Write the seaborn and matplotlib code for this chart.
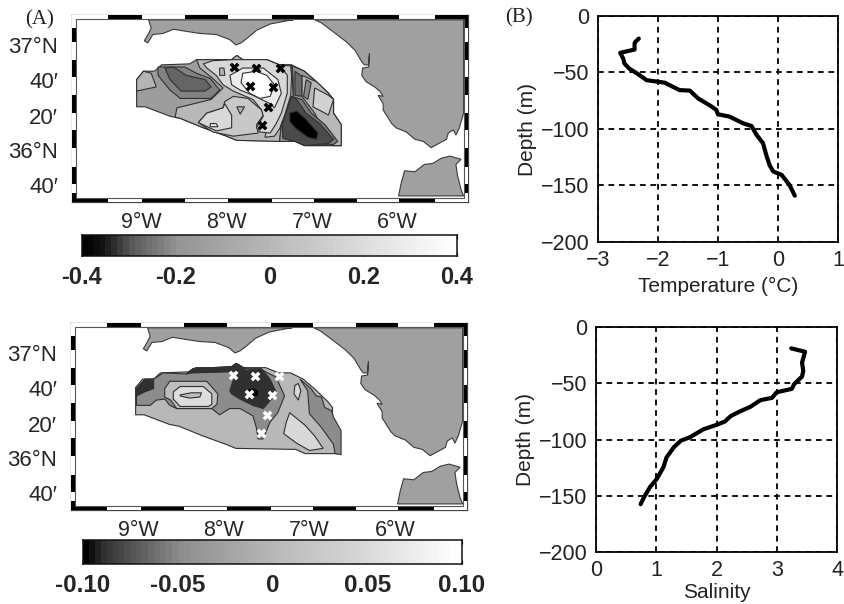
import numpy as np
import pandas as pd
import seaborn as sns
import matplotlib.pyplot as plt
from matplotlib.colors import LinearSegmentedColormap, Normalize
from matplotlib.patches import Rectangle

# coast
north_lon = [-8.91, -8.88, -8.91, -8.96, -8.92, -8.86, -8.74, -8.62, -8.47, -8.31, -8.12, -7.96, -7.89, -7.83, -7.75, -7.65, -7.49, -7.30, -7.22]
north_lat = [37.24, 37.16, 37.11, 37.04, 37.02, 37.10, 37.11, 37.15, 37.13, 37.11, 37.10, 37.05, 37.00, 37.02, 37.07, 37.14, 37.20, 37.23, 37.24]
spain_lon = [-6.97, -6.89, -6.76, -6.60, -6.50, -6.42, -6.39, -6.34, -6.33, -6.34, -6.41, -6.42, -6.37, -6.27, -6.21, -6.17, -6.23, -6.17, -6.17, -6.07, -6.02, -5.90, -5.80, -5.70, -5.61, -5.43, -5.41, -5.35, -5.32, -5.28, -5.23, -5.23]
spain_lat = [37.24, 37.21, 37.13, 37.03, 36.95, 36.84, 36.81, 36.81, 36.92, 36.79, 36.78, 36.71, 36.65, 36.60, 36.56, 36.51, 36.52, 36.44, 36.38, 36.25, 36.21, 36.17, 36.10, 36.08, 36.02, 36.10, 36.16, 36.19, 36.14, 36.21, 36.35, 37.24]
africa_lon = [-5.99, -5.96, -5.92, -5.80, -5.69, -5.59, -5.49, -5.39, -5.26, -5.32, -5.30, -5.26, -5.23]
africa_lat = [35.56, 35.68, 35.80, 35.79, 35.86, 35.87, 35.92, 35.94, 35.91, 35.86, 35.75, 35.62, 35.56]

# survey area outline
area_lon = [-9.05, -8.97, -8.84, -8.76, -8.43, -8.35, -7.94, -7.88, -7.81, -7.53, -7.38, -7.24, -7.09, -6.95, -6.81, -6.75, -6.75, -6.66, -6.66, -7.07, -7.18, -7.88, -8.00, -8.27, -8.54, -8.66, -8.95, -9.05]
area_lat = [36.67, 36.75, 36.75, 36.81, 36.82, 36.86, 36.86, 36.90, 36.86, 36.86, 36.81, 36.81, 36.75, 36.65, 36.54, 36.48, 36.35, 36.24, 36.04, 36.04, 36.08, 36.09, 36.13, 36.21, 36.30, 36.32, 36.41, 36.41]

# stations
station_lon = [-7.91, -7.65, -7.37, -7.72, -7.46, -7.52, -7.59]
station_lat = [36.79, 36.78, 36.78, 36.61, 36.60, 36.41, 36.24]

# upper map contours
a1_lon = [-9.05, -8.97, -8.88, -8.82, -9.05]
a1_lat = [36.67, 36.75, 36.73, 36.60, 36.56]
a2_lon = [-8.80, -8.49, -8.35, -8.19, -8.08, -8.18, -8.54, -8.66, -8.80]
a2_lat = [36.79, 36.79, 36.73, 36.68, 36.57, 36.49, 36.49, 36.57, 36.71]
a3_lon = [-8.72, -8.62, -8.47, -8.25, -8.18, -8.25, -8.53, -8.66]
a3_lat = [36.78, 36.79, 36.71, 36.67, 36.60, 36.56, 36.56, 36.67]
a4_lon = [-8.60, -8.58, -8.18, -8.04, -8.16, -8.31, -8.35, -7.94, -7.88, -7.81, -7.53, -7.38, -7.24, -7.22, -7.36, -7.38, -7.88, -8.00, -8.27, -8.54]
a4_lat = [36.31, 36.40, 36.48, 36.59, 36.68, 36.78, 36.86, 36.86, 36.90, 36.86, 36.86, 36.81, 36.81, 36.52, 36.24, 36.08, 36.09, 36.13, 36.21, 36.30]
a5_lon = [-7.38, -7.25, -7.24, -7.25, -7.32, -7.38, -7.44, -7.55]
a5_lat = [36.81, 36.80, 36.70, 36.52, 36.33, 36.20, 36.13, 36.12]
a6_lon = [-8.33, -8.23, -8.04, -8.02, -7.92, -7.75, -7.59, -7.57, -7.65, -7.63, -7.92, -8.16]
a6_lat = [36.26, 36.35, 36.40, 36.46, 36.51, 36.49, 36.38, 36.33, 36.24, 36.16, 36.13, 36.17]
a7_lon = [-8.33, -8.23, -8.04, -8.02, -7.94, -7.94, -8.12]
a7_lat = [36.26, 36.35, 36.40, 36.44, 36.33, 36.21, 36.18]
a8_lon = [-7.88, -7.79, -7.84]
a8_lat = [36.41, 36.41, 36.34]
a9_lon = [-8.19, -8.12, -8.10, -8.19]
a9_lat = [36.25, 36.25, 36.22, 36.22]
a10_lon = [-8.23, -8.27, -8.16, -7.92, -7.53, -7.38, -7.29, -7.29, -7.36, -7.42, -7.49, -7.61, -7.65, -7.57, -7.59, -7.69, -7.92, -8.04, -8.12]
a10_lat = [36.78, 36.82, 36.85, 36.86, 36.86, 36.81, 36.71, 36.54, 36.35, 36.25, 36.16, 36.17, 36.21, 36.32, 36.38, 36.48, 36.56, 36.62, 36.71]
a11_lon = [-7.94, -7.96, -7.81, -7.57, -7.40, -7.36, -7.44, -7.49, -7.69, -7.84]
a11_lat = [36.62, 36.71, 36.78, 36.78, 36.67, 36.54, 36.40, 36.44, 36.52, 36.57]
a12_lon = [-7.83, -7.81, -7.65, -7.53, -7.44, -7.49, -7.61, -7.73]
a12_lat = [36.64, 36.73, 36.75, 36.71, 36.62, 36.51, 36.49, 36.54]
a13_lon = [-8.08, -8.03, -8.02, -8.08]
a13_lat = [36.78, 36.78, 36.71, 36.71]
a14_lon = [-7.23, -7.22, -7.22, -7.36, -7.38, -7.18, -7.07, -6.66, -6.66, -6.75, -6.75, -6.81, -6.95, -7.09]
a14_lat = [36.80, 36.63, 36.52, 36.24, 36.08, 36.08, 36.04, 36.04, 36.24, 36.35, 36.48, 36.54, 36.65, 36.75]
a15_lon = [-7.12, -6.95, -6.81, -6.75, -6.75, -6.66, -6.66, -6.75, -6.85, -6.97, -7.12]
a15_lat = [36.71, 36.65, 36.54, 36.48, 36.35, 36.24, 36.04, 36.04, 36.16, 36.35, 36.51]
a16_lon = [-6.97, -6.81, -6.75, -6.81, -6.85, -6.99]
a16_lat = [36.59, 36.52, 36.48, 36.33, 36.35, 36.41]
a17_lon = [-7.20, -7.12, -7.12, -7.20]
a17_lat = [36.75, 36.70, 36.51, 36.52]
a18_lon = [-7.07, -7.01, -7.05, -7.10]
a18_lat = [36.67, 36.64, 36.48, 36.51]
a19_lon = [-7.24, -7.12, -7.01, -6.85, -6.70, -6.75, -7.09, -7.20, -7.34, -7.35]
a19_lat = [36.51, 36.48, 36.35, 36.24, 36.08, 36.05, 36.04, 36.08, 36.11, 36.24]
a20_lon = [-7.24, -7.18, -7.07, -6.91, -6.75, -6.81, -7.09, -7.20, -7.34, -7.35]
a20_lat = [36.51, 36.48, 36.35, 36.25, 36.10, 36.06, 36.04, 36.08, 36.11, 36.24]
a21_lon = [-7.26, -7.18, -7.07, -6.93, -6.95, -7.05, -7.20, -7.26]
a21_lat = [36.35, 36.37, 36.29, 36.16, 36.10, 36.12, 36.21, 36.27]

# lower map contours
b1_lon = [-9.04, -8.88, -8.81, -8.71, -8.65, -8.57, -8.16, -8.07, -7.95, -7.83, -7.68, -7.64, -7.62, -7.56, -7.48, -7.39, -7.31, -7.41, -7.60, -7.77, -7.87, -7.93, -8.38, -8.46, -8.73, -8.84, -8.94, -9.04]
b1_lat = [36.50, 36.50, 36.55, 36.56, 36.50, 36.47, 36.47, 36.41, 36.47, 36.47, 36.40, 36.29, 36.18, 36.18, 36.34, 36.43, 36.59, 36.77, 36.85, 36.85, 36.90, 36.87, 36.85, 36.80, 36.81, 36.75, 36.75, 36.66]
b2_lon = [-9.05, -9.04, -8.94, -8.84, -8.84, -8.94, -9.04]
b2_lat = [36.58, 36.66, 36.75, 36.75, 36.66, 36.63, 36.59]
b3_lon = [-8.46, -8.38, -7.93, -7.87, -7.77, -7.79, -7.95, -8.38]
b3_lat = [36.80, 36.85, 36.87, 36.90, 36.85, 36.83, 36.82, 36.81]
b4_lon = [-7.95, -7.91, -7.83, -7.58, -7.48, -7.41, -7.44, -7.56, -7.68, -7.83, -7.93]
b4_lat = [36.64, 36.74, 36.83, 36.85, 36.75, 36.63, 36.58, 36.47, 36.50, 36.56, 36.61]
b5_lon = [-7.74, -7.67, -7.61, -7.62, -7.70, -7.74]
b5_lat = [36.66, 36.67, 36.64, 36.58, 36.59, 36.62]
b6_lon = [-8.71, -8.65, -8.22, -8.09, -8.10, -8.16, -8.57, -8.64, -8.71]
b6_lat = [36.66, 36.73, 36.73, 36.61, 36.51, 36.47, 36.47, 36.55, 36.58]
b7_lon = [-8.61, -8.53, -8.26, -8.16, -8.16, -8.20, -8.53, -8.61]
b7_lat = [36.63, 36.68, 36.68, 36.61, 36.51, 36.49, 36.49, 36.56]
b8_lon = [-8.53, -8.40, -8.28, -8.30, -8.42, -8.53]
b8_lat = [36.60, 36.62, 36.62, 36.58, 36.57, 36.59]
b9_lon = [-7.13, -7.00, -6.94, -6.88, -6.84, -6.76, -6.74, -6.65, -6.65, -6.72, -6.74, -6.88, -7.02, -7.04]
b9_lat = [36.75, 36.66, 36.59, 36.58, 36.48, 36.45, 36.39, 36.26, 36.03, 36.04, 36.13, 36.29, 36.42, 36.64]
b10_lon = [-7.25, -7.07, -6.96, -6.86, -7.02, -7.17, -7.32, -7.29]
b10_lat = [36.43, 36.31, 36.21, 36.09, 36.07, 36.14, 36.23, 36.34]
b11_lon = [-7.15, -7.12, -7.15, -7.20, -7.19]
b11_lat = [36.71, 36.64, 36.55, 36.61, 36.69]

top_layers = [(area_lon, area_lat, -0.15), (a1_lon, a1_lat, -0.02), (a2_lon, a2_lat, -0.23), (a3_lon, a3_lat, -0.28),
              (a4_lon, a4_lat, 0.0), (a5_lon, a5_lat, 0.09), (a6_lon, a6_lat, 0.09), (a7_lon, a7_lat, 0.18),
              (a8_lon, a8_lat, -0.03), (a9_lon, a9_lat, 0.32), (a10_lon, a10_lat, 0.18), (a11_lon, a11_lat, 0.3),
              (a12_lon, a12_lat, 0.4), (a13_lon, a13_lat, 0.0), (a14_lon, a14_lat, -0.18), (a15_lon, a15_lat, 0.0),
              (a16_lon, a16_lat, 0.14), (a17_lon, a17_lat, -0.27), (a18_lon, a18_lat, -0.22), (a19_lon, a19_lat, -0.24),
              (a20_lon, a20_lat, -0.31), (a21_lon, a21_lat, -0.4)]
low_layers = [(area_lon, area_lat, 0.0), (b1_lon, b1_lat, -0.05), (b2_lon, b2_lat, -0.09), (b3_lon, b3_lat, -0.09),
              (b4_lon, b4_lat, -0.09), (b5_lon, b5_lat, -0.1), (b6_lon, b6_lat, 0.01), (b7_lon, b7_lat, 0.055),
              (b8_lon, b8_lat, 0.01), (b9_lon, b9_lat, -0.05), (b10_lon, b10_lat, 0.05), (b11_lon, b11_lat, 0.05)]

# frame stripes
zebra_lon = [-9.39, -8.99, -8.48, -7.98, -7.47, -6.98, -6.47, -5.98, -5.57]
zebra_lat = [37.16, 37.03, 36.86, 36.69, 36.52, 36.35, 36.19, 36.02, 35.84, 35.67, 35.59]

# profiles
temp = [-2.32, -2.38, -2.39, -2.39, -2.50, -2.63, -2.58, -2.56, -2.48, -2.33, -2.19, -1.89, -1.64, -1.47, -1.33, -1.14, -1.03, -1.00, -0.81, -0.58, -0.44, -0.36, -0.25, -0.19, -0.14, -0.08, 0.06, 0.19, 0.28]
temp_depth = [-20, -23, -24.4, -29.7, -31, -32.6, -37.6, -42, -46.5, -51.5, -56.8, -59, -65.6, -66, -73, -79, -83, -87, -89, -95, -97.4, -105, -112.6, -124, -132, -137.6, -140.6, -149.4, -159]
sal = [3.24, 3.47, 3.42, 3.44, 3.42, 3.29, 3.25, 3.00, 2.92, 2.73, 2.56, 2.39, 2.24, 2.14, 2.00, 1.78, 1.56, 1.41, 1.29, 1.17, 1.12, 1.01, 0.90, 0.80, 0.74]
sal_depth = [-19, -22, -31.6, -39, -44, -50.7, -55, -58, -63, -65, -71, -75, -79, -84, -87, -91, -98, -101, -107, -116, -124.5, -135, -142, -151, -157.5]

map_lon_ticks = [-9, -8, -7, -6]
map_lon_labels = ['9°W', '8°W', '7°W', '6°W']
map_lat_ticks = [37, 36.667, 36.32, 36, 35.667]
map_lat_labels = ['37°N', '40′', '20′', '36°N', '40′']

top_cbar_ticks = [-0.4, -0.2, 0, 0.2, 0.4]
top_cbar_labels = ['-0.4', '-0.2', '0', '0.2', '0.4']
low_cbar_ticks = [-0.10, -0.05, 0, 0.05, 0.10]
low_cbar_labels = ['-0.10', '-0.05', '0', '0.05', '0.10']

sns.set_theme(style='white')
plt.rcParams['font.family'] = ['Liberation Sans', 'DejaVu Sans']
plt.rcParams['text.color'] = '#222222'

W, H = 844, 604
fig = plt.figure(figsize=(W / 100, H / 100), dpi=100)


def px_axes(x0, y0, x1, y1):
    return fig.add_axes([x0 / W, 1 - y1 / H, (x1 - x0) / W, (y1 - y0) / H])


def make_cmap(vmin, vmax, stops):
    pts = [((v - vmin) / (vmax - vmin), (g, g, g)) for v, g in stops]
    return LinearSegmentedColormap.from_list('grays', pts)


top_cmap = make_cmap(-0.4, 0.4, [(-0.4, 0), (-0.36, 0.08), (-0.3, 0.35), (-0.2, 0.58), (0, 0.72), (0.2, 0.86), (0.4, 1)])
low_cmap = make_cmap(-0.1, 0.1, [(-0.1, 0), (-0.095, 0.1), (-0.09, 0.2), (-0.05, 0.55), (0, 0.72), (0.05, 0.85), (0.1, 1)])


def draw_map(box, layers, cmap, vmin, vmax, marker_color, tick_shift):
    ax = px_axes(*box)
    ax.set_xlim(-9.805, -5.179)
    ax.set_ylim(35.502, 37.286)
    norm = Normalize(vmin, vmax)
    for lon, lat in [(north_lon, north_lat), (spain_lon, spain_lat), (africa_lon, africa_lat)]:
        ax.fill(lon, lat, facecolor='#a0a0a0', edgecolor='#3a3a3a', lw=0.8)
    for lon, lat, level in layers:
        ax.fill(lon, lat, facecolor=cmap(norm(level)), edgecolor='#303030', lw=0.8)
    sns.scatterplot(x=station_lon, y=station_lat, ax=ax, marker='X', s=50, color=marker_color, linewidth=0, zorder=5)

    # zebra frame
    xb = 0.05
    yb = 0.041
    x0, x1 = ax.get_xlim()
    y0, y1 = ax.get_ylim()
    ax.add_patch(Rectangle((x0, y0), x1 - x0, yb, fc='white', ec='none', zorder=6))
    ax.add_patch(Rectangle((x0, y1 - yb), x1 - x0, yb, fc='white', ec='none', zorder=6))
    ax.add_patch(Rectangle((x0, y0), xb, y1 - y0, fc='white', ec='none', zorder=6))
    ax.add_patch(Rectangle((x1 - xb, y0), xb, y1 - y0, fc='white', ec='none', zorder=6))
    lon_edges = [x0] + zebra_lon + [x1]
    for i in range(len(lon_edges) - 1):
        yy = y0 if i % 2 == 0 else y1 - yb
        ax.add_patch(Rectangle((lon_edges[i], yy), lon_edges[i + 1] - lon_edges[i], yb, fc='black', ec='none', zorder=7))
    lat_edges = [y1] + zebra_lat + [y0]
    for i in range(len(lat_edges) - 1):
        xx = x1 - xb if i % 2 == 0 else x0
        ax.add_patch(Rectangle((xx, lat_edges[i + 1]), xb, lat_edges[i] - lat_edges[i + 1], fc='black', ec='none', zorder=7))
    ax.add_patch(Rectangle((x0 + xb, y0 + yb), x1 - x0 - 2 * xb, y1 - y0 - 2 * yb, fc='none', ec='#555555', lw=0.8, zorder=7))

    ax.set_xticks([t + tick_shift for t in map_lon_ticks])
    ax.set_xticklabels(map_lon_labels, fontsize=15.5)
    ax.set_yticks(map_lat_ticks)
    ax.set_yticklabels(map_lat_labels, fontsize=16)
    ax.tick_params(axis='x', length=0, pad=7)
    ax.tick_params(axis='y', length=0, pad=10)
    for s in ax.spines.values():
        s.set_visible(True)
        s.set_color('#444444')
        s.set_linewidth(0.9)
    return ax


def draw_cbar(box, cmap, vmin, vmax, ticks, labels, size, pad):
    ax = px_axes(*box)
    n = 64
    grad = np.linspace(vmin, vmax, n).reshape(1, -1)
    sns.heatmap(grad, ax=ax, cmap=cmap, vmin=vmin, vmax=vmax, cbar=False, xticklabels=False, yticklabels=False)
    ax.set_xticks([(t - vmin) / (vmax - vmin) * n for t in ticks])
    ax.set_xticklabels(labels, fontsize=size, fontweight='bold', rotation=0)
    ax.set_yticks([])
    ax.tick_params(axis='x', direction='in', bottom=True, top=True, length=3, width=0.9, color='#222222', pad=pad)
    for s in ax.spines.values():
        s.set_visible(True)
        s.set_color('#111111')
        s.set_linewidth(1.1)


def draw_profile(box, x, y, xticks, xlabel, xpad):
    ax = px_axes(*box)
    df = pd.DataFrame({'value': x, 'depth': y})
    sns.lineplot(data=df, x='value', y='depth', ax=ax, sort=False, estimator=None, color='black', lw=3.0, zorder=3)
    ax.set_xlim(xticks[0], xticks[-1])
    ax.set_ylim(-200, 0)
    ax.set_xticks(xticks)
    ax.set_yticks([-200, -150, -100, -50, 0])
    ax.tick_params(axis='both', length=0, labelsize=15.5, pad=6, labelcolor='#222222')
    ax.grid(True, color='black', ls=(0, (3.2, 2.6)), lw=1.3)
    ax.set_axisbelow(True)
    ax.set_xlabel(xlabel, fontsize=15, labelpad=xpad, color='#222222')
    ax.set_ylabel('Depth (m)', fontsize=15, labelpad=3, color='#222222')
    for s in ax.spines.values():
        s.set_visible(True)
        s.set_color('black')
        s.set_linewidth(1.3)


draw_map((72, 15, 468, 202), top_layers, top_cmap, -0.4, 0.4, 'black', 0)
draw_map((71, 323, 467, 510), low_layers, low_cmap, -0.1, 0.1, 'white', -0.02)
draw_cbar((82, 235, 457, 256), top_cmap, -0.4, 0.4, top_cbar_ticks, top_cbar_labels, 17, 7)
draw_cbar((83, 540, 462, 564), low_cmap, -0.1, 0.1, low_cbar_ticks, low_cbar_labels, 17.5, 7)
draw_profile((598, 16, 838, 242), temp, temp_depth, [-3, -2, -1, 0, 1], 'Temperature (°C)', 4)
draw_profile((596, 327, 837, 552), sal, sal_depth, [0, 1, 2, 3, 4], 'Salinity', 1)

fig.text(25 / W, 1 - 20 / H, '(A)', family='Liberation Serif', fontsize=15, va='center', ha='left')
fig.text(505 / W, 1 - 18 / H, '(B)', family='Liberation Serif', fontsize=15, va='center', ha='left')

fig.savefig('out.png', dpi=100)
